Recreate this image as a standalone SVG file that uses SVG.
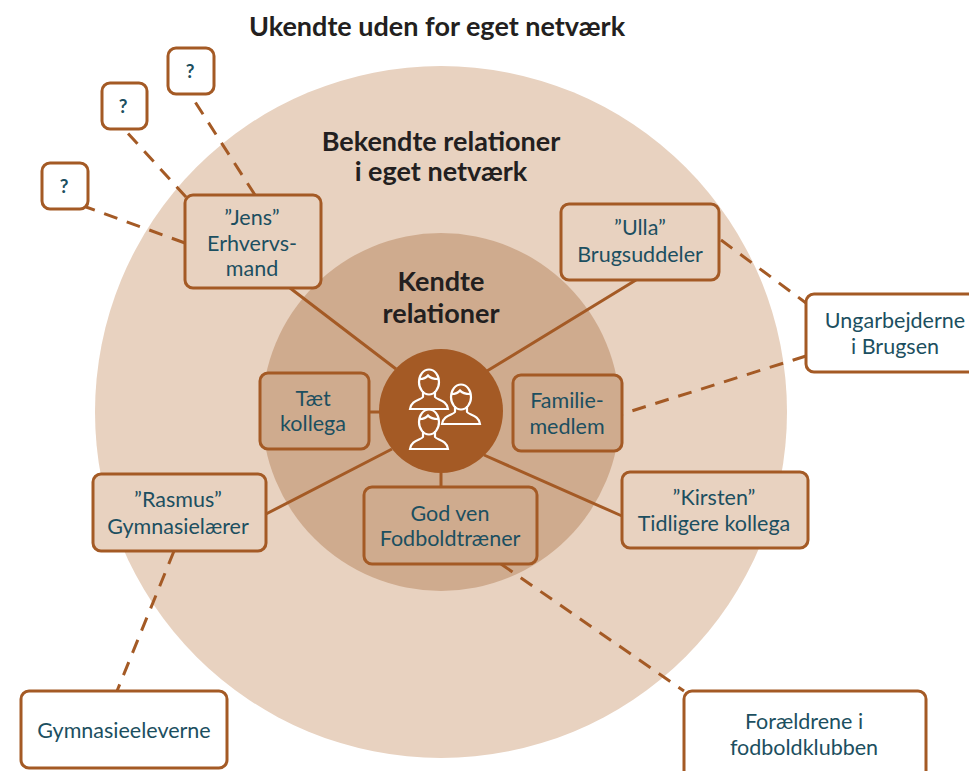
<svg xmlns="http://www.w3.org/2000/svg" width="969" height="771" viewBox="0 0 969 771">
<style>
text{font-family:Lato,"Open Sans","Liberation Sans",sans-serif;text-anchor:middle}
.h{font-size:27px;font-weight:700;fill:#231f20}
.t{font-size:21.5px;fill:#1c4f60}
.q{font-size:19px;font-weight:700;fill:#1c4f60}
.box{stroke:#a45a25;stroke-width:3;fill:#e8d2c0}
.w{fill:#fff}
.d{fill:#cfab8e}
.s{stroke:#a45a25;stroke-width:3;fill:none}
.da{stroke-dasharray:14 10}
.i{fill:none;stroke:#fff;stroke-width:2.2}
</style>
<rect width="969" height="771" fill="#fff"/>
<circle cx="441" cy="412" r="346" fill="#e8d2c0"/>
<circle cx="441" cy="412" r="179" fill="#cfab8e"/>
<g id="connectors">
<path class="s" d="M290 288L396 369M636 280L487 371M369 412H380M392 449L266 514M441 473V487M484 455L622 516"/>
<path class="s da" d="M255 195L190 94M186 197L124 129M185 243L86 207M721 240L806 303M806 356L622 414M174 551L117 691M501 564L684 691"/>
</g>
<g id="title"><text class="h" x="437" y="36">Ukendte uden for eget netværk</text></g>
<g id="ring2"><text class="h" x="441" y="151">Bekendte relationer</text><text class="h" x="441" y="181">i eget netværk</text></g>
<g id="ring1"><text class="h" x="441" y="291">Kendte</text><text class="h" x="441" y="323">relationer</text></g>
<g id="center">
<circle cx="441" cy="411" r="62" fill="#a45a25"/>
<defs><g id="p"><ellipse cx="0" cy="0" rx="10" ry="12.5" fill="#a45a25" stroke="#fff" stroke-width="2.2"/><path class="i" d="M-9.500 -3C-6 -3 -3 -4 -1 -6.500C1 -4 5 -3 9.500 -3M-6 9V15C-8 18 -18 18 -19 27H19C18 18 8 18 6 15V9"/></g></defs>
<use href="#p" x="429" y="382"/><use href="#p" x="461" y="397"/><use href="#p" x="429" y="422"/>
</g>
<g id="jens"><rect class="box" x="185" y="195" width="136" height="93" rx="8"/><text class="t" x="252" y="225">”Jens”</text><text class="t" x="252" y="251">Erhvervs-</text><text class="t" x="252" y="276">mand</text></g>
<g id="ulla"><rect class="box" x="561" y="204" width="158" height="76" rx="8"/><text class="t" x="640" y="235">”Ulla”</text><text class="t" x="640" y="262">Brugsuddeler</text></g>
<g id="ungarbejderne"><rect class="box w" x="806" y="294" width="180" height="78" rx="8"/><text class="t" x="895" y="328">Ungarbejderne</text><text class="t" x="895" y="354">i Brugsen</text></g>
<g id="kollega"><rect class="box d" x="260" y="373" width="109" height="76" rx="8"/><text class="t" x="313" y="406">Tæt</text><text class="t" x="313" y="431">kollega</text></g>
<g id="familie"><rect class="box d" x="513" y="375" width="109" height="76" rx="8"/><text class="t" x="567" y="408">Familie-</text><text class="t" x="567" y="434">medlem</text></g>
<g id="kirsten"><rect class="box" x="622" y="472" width="186" height="76" rx="8"/><text class="t" x="714" y="505">”Kirsten”</text><text class="t" x="714" y="531">Tidligere kollega</text></g>
<g id="rasmus"><rect class="box" x="93" y="474" width="173" height="77" rx="8"/><text class="t" x="178" y="507">”Rasmus”</text><text class="t" x="178" y="534">Gymnasielærer</text></g>
<g id="godven"><rect class="box d" x="364" y="487" width="173" height="77" rx="8"/><text class="t" x="450" y="521">God ven</text><text class="t" x="450" y="546">Fodboldtræner</text></g>
<g id="gymnasieeleverne"><rect class="box w" x="21" y="691" width="206" height="77" rx="8"/><text class="t" x="124" y="738">Gymnasieeleverne</text></g>
<g id="foraeldrene"><rect class="box w" x="684" y="691" width="242" height="100" rx="8"/><text class="t" x="804" y="729">Forældrene i</text><text class="t" x="804" y="755">fodboldklubben</text></g>
<g id="q1"><rect class="box w" x="168" y="48" width="46" height="46" rx="8"/><text class="q" x="190" y="78">?</text></g>
<g id="q2"><rect class="box w" x="102" y="83" width="45" height="46" rx="8"/><text class="q" x="123" y="113">?</text></g>
<g id="q3"><rect class="box w" x="42" y="163" width="46" height="46" rx="8"/><text class="q" x="64" y="193">?</text></g>
</svg>
